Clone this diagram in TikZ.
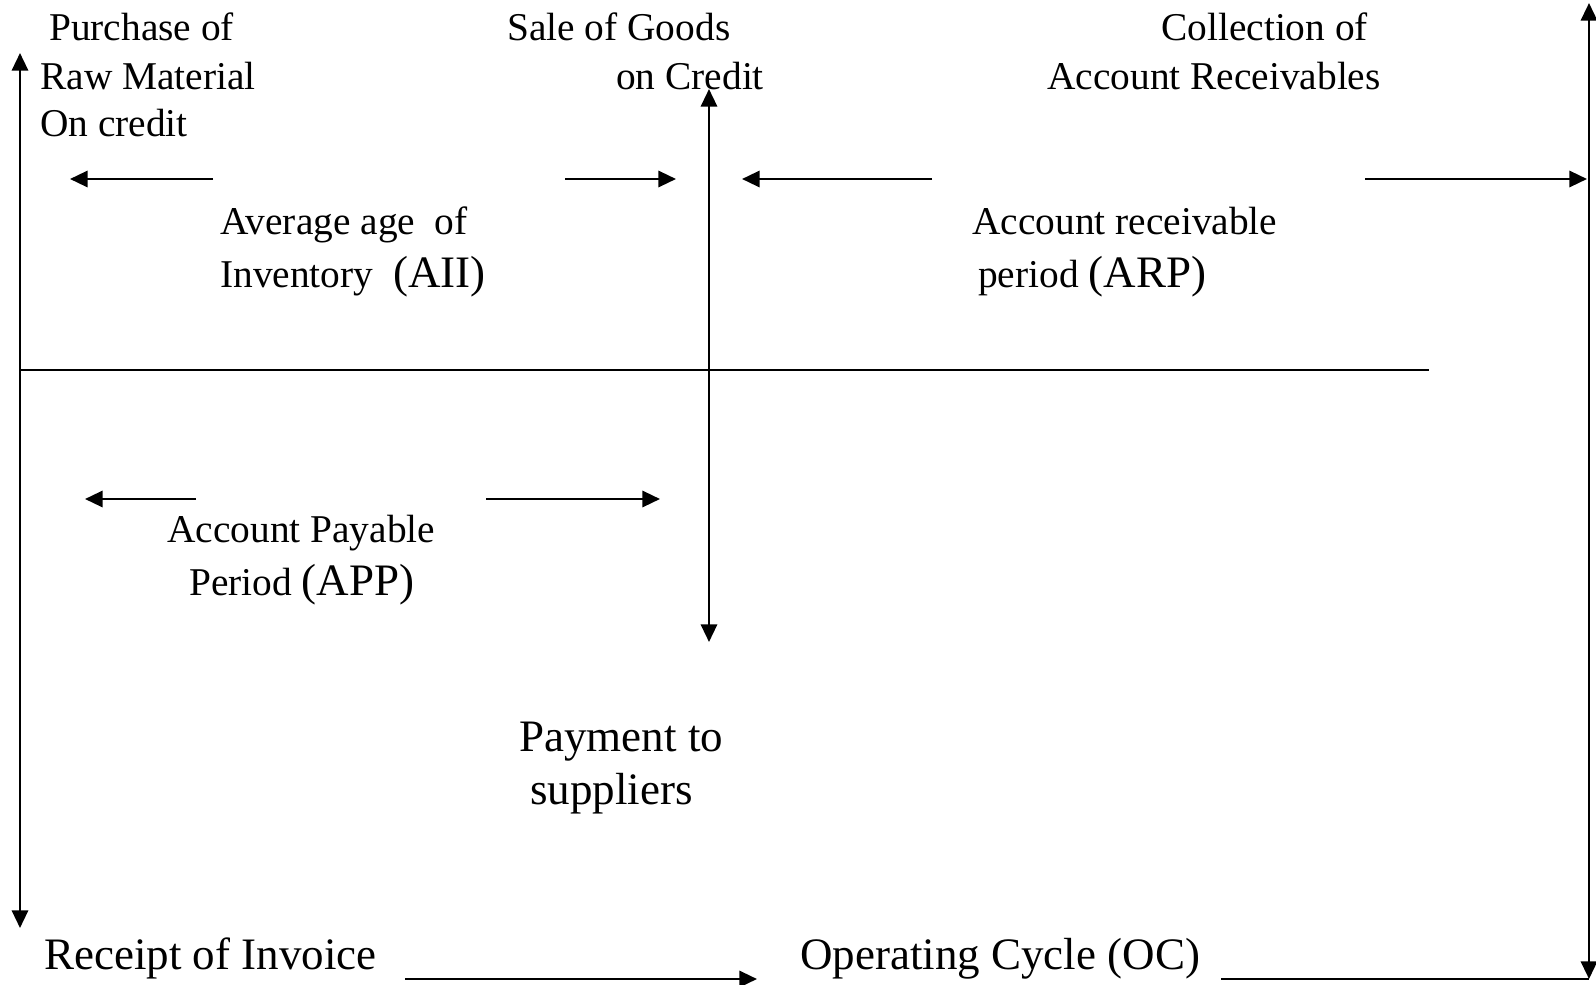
\documentclass[tikz,border=0pt]{standalone}
\usepackage{fontspec}
\setmainfont{Liberation Serif}
\usetikzlibrary{arrows.meta,positioning}

\newcommand{\bigtxt}[1]{{\fontsize{32}{38}\selectfont #1}}

\begin{document}
\begin{tikzpicture}[x=0.025cm, y=-0.025cm, >={Triangle[length=12.5pt,width=11.5pt]},
                    line width=1.8pt]
\tikzstyle{every node}=[font=\fontsize{28}{34}\selectfont, inner sep=0pt, anchor=base west]
\tikzstyle{big}=[font=\fontsize{32}{38}\selectfont]
\useasboundingbox (0,0) rectangle (1596,985);

% event labels
\node (p1) at (48,41) {Purchase of};
\node (p2) at (39,90) {Raw Material};
\node (p3) at (39,137) {On credit};
\node (s1) at (506,41) {Sale of Goods};
\node (s2) at (615,90) {on Credit};
\node (c1) at (1160,41) {Collection of};
\node (c2) at (1046,90) {Account Receivables};

% period labels
\node (a1) at (219,234) {Average age~~of};
\node (a2) at (219,287) {Inventory~~\bigtxt{(AII)}};
\node (r1) at (971,234) {Account receivable};
\node (r2) at (977,287) {period \bigtxt{(ARP)}};
\node (q1) at (166,542) {Account Payable};
\node (q2) at (188,595) {Period \bigtxt{(APP)}};
\node [big] (m1) at (518,751) {Payment to};
\node [big] (m2) at (529,804) {suppliers};
\node [big] (ri) at (43,969) {Receipt of Invoice};
\node [big] (oc) at (799,969) {Operating Cycle (OC)};

% axes
\coordinate (lt) at (20,53);   \coordinate (lb) at (20,928);
\coordinate (mt) at (709,89);  \coordinate (mb) at (709,642);
\coordinate (hl) at (20,370);  \coordinate (hr) at (1429,370);
\coordinate (rt) at (1589,3);  \coordinate (rb) at (1589,979);
\draw [<->] (lt) -- (lb);
\draw [<->] (mt) -- (mb);
\draw (hl) -- (hr);
\draw [<->] (rt) -- (rb);

% period arrows
\coordinate (i1) at (213,179);  \coordinate (i2) at (70,179);
\coordinate (i3) at (565,179);  \coordinate (i4) at (676,179);
\coordinate (k1) at (932,179);  \coordinate (k2) at (742,179);
\coordinate (k3) at (1365,179); \coordinate (k4) at (1587,179);
\coordinate (j1) at (196,499);  \coordinate (j2) at (85,499);
\coordinate (j3) at (486,499);  \coordinate (j4) at (660,499);
\draw [->] (i1) -- (i2);
\draw [->] (i3) -- (i4);
\draw [->] (k1) -- (k2);
\draw [->] (k3) -- (k4);
\draw [->] (j1) -- (j2);
\draw [->] (j3) -- (j4);

% operating cycle
\coordinate (o1) at (405,979);  \coordinate (o2) at (757,979);
\coordinate (o3) at (1221,979);
\draw [->] (o1) -- (o2);
\draw (o3) -- (rb);
\end{tikzpicture}
\end{document}
